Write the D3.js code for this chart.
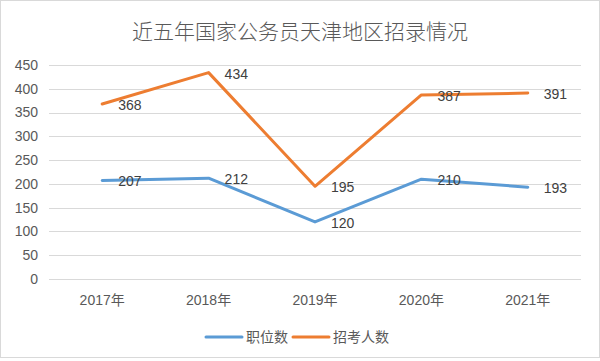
<!DOCTYPE html>
<html>
<head>
<meta charset="utf-8">
<script src="https://cdn.jsdelivr.net/npm/d3@7"></script>
<style>
  body { margin: 0; background: #fff; }
  text { font-family: "Liberation Sans", "Noto Sans CJK SC", sans-serif; }
</style>
</head>
<body>
<div id="container"></div>
<script>
// chart data
var years = ["2017年", "2018年", "2019年", "2020年", "2021年"];
var jobs = [207, 212, 120, 210, 193];        // 职位数
var applicants = [368, 434, 195, 387, 391];  // 招考人数
var yTicks = [0, 50, 100, 150, 200, 250, 300, 350, 400, 450];

var series = [
  { name: "职位数", values: jobs, color: "#5B9BD5" },
  { name: "招考人数", values: applicants, color: "#ED7D31" }
];

var w = 600, h = 361;

var svg = d3.select("div#container")
  .append("svg")
  .attr("width", w)
  .attr("height", h);

svg.append("rect")
  .attr("x", 0.5).attr("y", 0.5)
  .attr("width", w - 1).attr("height", h - 4)
  .attr("fill", "#fff")
  .attr("stroke", "#d9d9d9");

// title
svg.append("text")
  .attr("x", 300)
  .attr("y", 39)
  .attr("text-anchor", "middle")
  .attr("font-size", 21)
  .attr("font-weight", 300)
  .attr("fill", "#595959")
  .text("近五年国家公务员天津地区招录情况");

var x = d3.scaleBand()
  .domain(years)
  .range([49, 581]);

var y = d3.scaleLinear()
  .domain([0, 450])
  .range([279, 65]);

// gridlines
svg.append("g")
  .selectAll("line")
  .data(yTicks)
  .enter().append("line")
  .attr("x1", 49).attr("x2", 581)
  .attr("y1", function(d) { return Math.round(y(d)) + 0.5; })
  .attr("y2", function(d) { return Math.round(y(d)) + 0.5; })
  .attr("stroke", "#d9d9d9")
  .attr("stroke-width", 1);

// y axis labels
svg.append("g")
  .selectAll("text")
  .data(yTicks)
  .enter().append("text")
  .attr("x", 38)
  .attr("y", function(d) { return y(d); })
  .attr("dy", "0.35em")
  .attr("text-anchor", "end")
  .attr("font-size", 14)
  .attr("fill", "#595959")
  .text(function(d) { return d; });

// x axis labels
svg.append("g")
  .selectAll("text")
  .data(years)
  .enter().append("text")
  .attr("x", function(d) { return x(d) + x.bandwidth() / 2; })
  .attr("y", 300)
  .attr("dy", "0.35em")
  .attr("text-anchor", "middle")
  .attr("font-size", 14)
  .attr("fill", "#595959")
  .text(function(d) { return d; });

var line = d3.line()
  .x(function(d, i) { return x(years[i]) + x.bandwidth() / 2; })
  .y(function(d) { return y(d); });

series.forEach(function(s) {
  svg.append("path")
    .datum(s.values)
    .attr("d", line)
    .attr("fill", "none")
    .attr("stroke", s.color)
    .attr("stroke-width", 3)
    .attr("stroke-linejoin", "round")
    .attr("stroke-linecap", "round");

  // data labels to the right of each point
  svg.append("g")
    .selectAll("text")
    .data(s.values)
    .enter().append("text")
    .attr("x", function(d, i) { return x(years[i]) + x.bandwidth() / 2 + 16; })
    .attr("y", function(d) { return y(d) + 1; })
    .attr("dy", "0.35em")
    .attr("font-size", 14)
    .attr("fill", "#404040")
    .text(function(d) { return d; });
});

// legend
var legendX = [206, 293];
var legend = svg.append("g")
  .selectAll("g")
  .data(series)
  .enter().append("g")
  .attr("transform", function(d, i) { return "translate(" + legendX[i] + ",337)"; });

legend.append("line")
  .attr("x1", 0).attr("x2", 36)
  .attr("stroke", function(d) { return d.color; })
  .attr("stroke-width", 3)
  .attr("stroke-linecap", "round");

legend.append("text")
  .attr("x", 40)
  .attr("dy", "0.35em")
  .attr("font-size", 14)
  .attr("fill", "#595959")
  .text(function(d) { return d.name; });
</script>
</body>
</html>
